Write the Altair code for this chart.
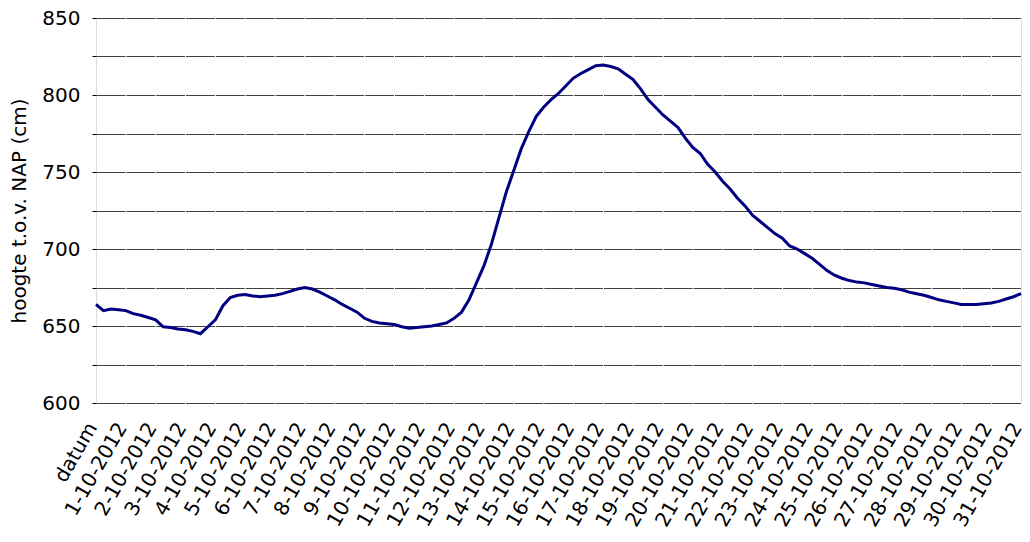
import json
import altair as alt
import pandas as pd

# x-axis category labels (one per day tick)
X_LABELS = ["datum"] + [f"{d}-10-2012" for d in range(1, 32)]

# water level (cm t.o.v. NAP), read every 6 hours from the picture, starting at the "datum" tick
LEVELS = [
    664, 660, 661, 660.5,          # day 0
    660, 658, 657, 655.5,          # 1
    654, 649.5, 649, 648,          # 2
    647.5, 646.5, 645, 649.5,      # 3
    654, 663, 668.5, 670,          # 4
    670.5, 669.5, 669, 669.5,      # 5
    670, 671, 672.5, 674,          # 6
    675, 674, 672, 669.5,          # 7
    667, 664, 661.5, 659,          # 8
    655, 653, 652, 651.5,          # 9
    651, 649.5, 648.5, 649,        # 10
    649.5, 650, 651, 652,          # 11
    655, 659, 667, 678,            # 12
    689, 703, 720, 737,            # 13
    751, 765, 776, 786,            # 14
    792, 797, 801, 806,            # 15
    811, 814, 816.5, 819,          # 16
    819.5, 818.5, 817, 813.5,      # 17
    810, 804, 797, 792,            # 18
    787, 783, 779, 772,            # 19
    766, 762, 755, 750,            # 20
    744, 739, 733, 728,            # 21
    722, 718, 714, 710,            # 22
    707, 702, 700, 697,            # 23
    694, 690, 686, 683,            # 24
    681, 679.5, 678.5, 678,        # 25
    677, 676, 675, 674.5,          # 26
    673.5, 672, 671, 670,          # 27
    668.5, 667, 666, 665,          # 28
    664, 664, 664, 664.5,          # 29
    665, 666, 667.5, 669,          # 30
    671,                           # 31
]
STEPS_PER_DAY = 4

Y_TICKS = [600, 625, 650, 675, 700, 725, 750, 775, 800, 825, 850]

df = pd.DataFrame({
    "dag": [i / STEPS_PER_DAY for i in range(len(LEVELS))],
    "hoogte": LEVELS,
})

FONT = "DejaVu Sans"
label_expr = json.dumps(X_LABELS) + "[round(datum.value)]"

chart = (
    alt.Chart(df)
    .mark_line(color="#000080", strokeWidth=3, interpolate="linear")
    .encode(
        x=alt.X(
            "dag:Q",
            scale=alt.Scale(domain=[0, 31], nice=False, zero=False),
            axis=alt.Axis(
                title=None,
                values=list(range(len(X_LABELS))),
                labelExpr=label_expr,
                labelAngle=300,
                labelAlign="right",
                labelBaseline="middle",
                labelPadding=21,
                labelOffset=-4,
                labelFont=FONT,
                labelFontSize=20,
                labelColor="#000000",
                labelOverlap=False,
                labelFlush=False,
                labelBound=False,
                ticks=False,
                domain=False,
                grid=False,
            ),
        ),
        y=alt.Y(
            "hoogte:Q",
            scale=alt.Scale(domain=[600, 850], nice=False, zero=False),
            axis=alt.Axis(
                title="hoogte t.o.v. NAP (cm)",
                titleFont=FONT,
                titleFontSize=20,
                titleFontWeight="normal",
                titleColor="#000000",
                titlePadding=12,
                values=Y_TICKS,
                labelExpr="datum.value % 50 == 0 ? datum.label : ''",
                labelFont=FONT,
                labelFontSize=20,
                labelColor="#000000",
                labelPadding=12,
                tickSize=4,
                tickColor="#000000",
                domain=False,
                grid=True,
                gridColor="#404040",
                gridWidth=1,
                gridDash=[28.85, 1],
            ),
        ),
    )
    .properties(
        width=925,
        height=385,
        autosize=alt.AutoSizeParams(type="none"),
        padding={"left": 88, "top": 10, "right": 1, "bottom": 127},
    )
    .configure_view(stroke="#000000", strokeWidth=2)
    .configure(background="#ffffff")
)

chart.save("out.html", embed_options={"renderer": "svg", "actions": False})
